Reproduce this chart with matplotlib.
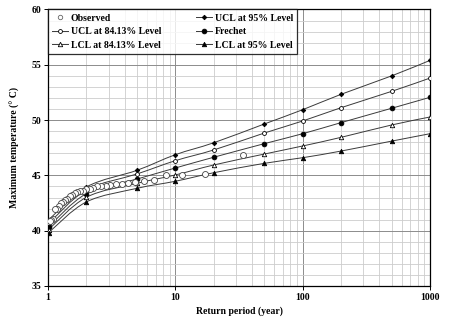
import matplotlib
matplotlib.use("Agg")
import matplotlib.pyplot as plt
from matplotlib.path import Path
from matplotlib.patches import PathPatch
from matplotlib.lines import Line2D
from matplotlib.ticker import FixedLocator, NullFormatter
import numpy as np

plt.rcParams['font.family'] = ['Liberation Serif', 'DejaVu Serif']
plt.rcParams['font.weight'] = 'bold'

# Observed annual maxima, plotted at their return periods
obs_T = [34.0, 17.0, 11.33, 8.5, 6.8, 5.67, 4.857, 4.25, 3.778, 3.4, 3.091,
         2.833, 2.615, 2.429, 2.267, 2.125, 2.0, 1.889, 1.789, 1.7, 1.619,
         1.545, 1.478, 1.417, 1.36, 1.308, 1.259, 1.214, 1.172, 1.133, 1.097,
         1.0625, 1.03]
obs_temp = [46.8, 45.1, 45.0, 45.0, 44.6, 44.5, 44.4, 44.3, 44.2, 44.2, 44.1,
            44.0, 44.0, 44.0, 43.9, 43.8, 43.75, 43.6, 43.6, 43.5, 43.4,
            43.2, 43.1, 42.9, 42.8, 42.6, 42.5, 42.2, 42.0, 41.95, 41.1,
            41.0, 40.85]

# Fitted Frechet quantiles and confidence limits
ret_period = [1.01, 2, 5, 10, 20, 50, 100, 200, 500, 1000]
ucl95 = [40.97, 43.95, 45.46, 46.87, 47.95, 49.65, 50.94, 52.33, 54.0, 55.4]
ucl84 = [40.65, 43.68, 45.13, 46.33, 47.3, 48.83, 49.92, 51.12, 52.6, 53.8]
frechet = [40.36, 43.35, 44.67, 45.67, 46.64, 47.87, 48.77, 49.77, 51.07, 52.06]
lcl84 = [40.1, 43.02, 44.28, 45.04, 45.94, 46.93, 47.66, 48.44, 49.56, 50.28]
lcl95 = [39.82, 42.6, 43.83, 44.47, 45.24, 46.09, 46.6, 47.2, 48.1, 48.77]


def smooth_path(xs, ys):
    # spreadsheet-style smoothed line: cubic Bezier through each point,
    # built in log10(x) space so it stays smooth on the log axis
    lx = np.log10(xs)
    y = np.asarray(ys, float)
    n = len(lx)
    verts = [(xs[0], y[0])]
    codes = [Path.MOVETO]
    for i in range(n - 1):
        i0 = max(i - 1, 0)
        i3 = min(i + 2, n - 1)
        c1x = lx[i] + (lx[i + 1] - lx[i0]) / 6
        c1y = y[i] + (y[i + 1] - y[i0]) / 6
        c2x = lx[i + 1] - (lx[i3] - lx[i]) / 6
        c2y = y[i + 1] - (y[i3] - y[i]) / 6
        verts += [(10 ** c1x, c1y), (10 ** c2x, c2y), (xs[i + 1], y[i + 1])]
        codes += [Path.CURVE4] * 3
    return Path(verts, codes)


fig = plt.figure(figsize=(4.58, 3.24), dpi=100)
ax = fig.add_axes([0.1048, 0.1173, 0.8341, 0.8534])
ax.set_xscale('log')
ax.set_xlim(1, 1000)
ax.set_ylim(35, 60)

# grid
ax.xaxis.set_minor_locator(FixedLocator([m * 10 ** d for d in range(3) for m in range(2, 10)]))
ax.xaxis.set_minor_formatter(NullFormatter())
ax.yaxis.set_minor_locator(FixedLocator(np.arange(35, 61, 1)))
ax.set_yticks([35, 40, 45, 50, 55, 60])
ax.set_xticks([1, 10, 100, 1000])
ax.set_xticklabels(['1', '10', '100', '1000'])
ax.grid(which='minor', color='#cccccc', lw=0.6)
ax.grid(which='major', color='#8c8c8c', lw=0.7)
ax.set_axisbelow(True)
ax.tick_params(which='minor', length=0)
ax.tick_params(which='major', direction='out', length=3, width=0.7, labelsize=7, pad=2)
for s in ax.spines.values():
    s.set_color('black')
    s.set_linewidth(0.9)

series = [
    (ucl95, 'D', 'black', 'black', 2.3, 'UCL at 95% Level'),
    (ucl84, 'o', 'white', 'black', 2.8, 'UCL at 84.13% Level'),
    (frechet, 'o', 'black', 'black', 3.4, 'Frechet'),
    (lcl84, '^', 'white', 'black', 3.2, 'LCL at 84.13% Level'),
    (lcl95, '^', 'black', 'black', 3.2, 'LCL at 95% Level'),
]
handles = {}
for vals, mk, fc, ec, ms, lab in series:
    ax.add_patch(PathPatch(smooth_path(ret_period, vals), fill=False,
                           edgecolor='#3a3a3a', lw=0.7, zorder=3))
    ax.plot(ret_period, vals, ls='none', marker=mk, mfc=fc, mec=ec,
            ms=ms, mew=0.6, zorder=4)
    handles[lab] = Line2D([], [], color='#3a3a3a', lw=0.7, marker=mk,
                          mfc=fc, mec=ec, ms=ms, mew=0.6)

ax.plot(obs_T, obs_temp, ls='none', marker='o', mfc='white', mec='#444444',
        ms=4.3, mew=0.6, zorder=5)
handles['Observed'] = Line2D([], [], ls='none', marker='o', mfc='white',
                             mec='#666666', ms=3.2, mew=0.6)

order = ['Observed', 'UCL at 84.13% Level', 'LCL at 84.13% Level',
         'UCL at 95% Level', 'Frechet', 'LCL at 95% Level']
leg = ax.legend([handles[k] for k in order], order, ncol=2, loc='upper left',
                bbox_to_anchor=(0, 1), borderaxespad=0, fontsize=7,
                frameon=True, fancybox=False, edgecolor='black',
                handlelength=1.6, handletextpad=0.3, columnspacing=3.6,
                labelspacing=0.45, borderpad=0.45)
leg.get_frame().set_linewidth(0.9)
leg.set_zorder(10)

ax.set_xlabel('Return period (year)', fontsize=7, fontweight='bold', labelpad=3)
ax.set_ylabel('Maximum temperature (° C)', fontsize=7, fontweight='bold', labelpad=8)

fig.savefig('out.png', dpi=100)
